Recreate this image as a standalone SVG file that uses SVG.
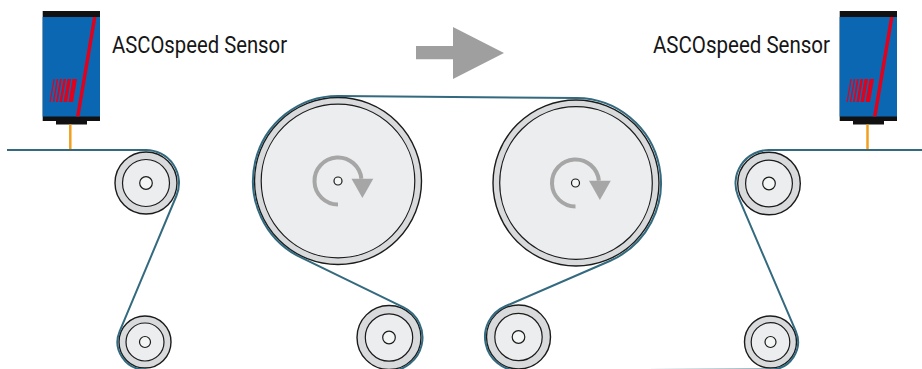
<svg xmlns="http://www.w3.org/2000/svg" xmlns:xlink="http://www.w3.org/1999/xlink" width="922" height="369" viewBox="0 0 922 369">
  <style>
    .rim { fill: #d9dadb; stroke: #1b1b1b; stroke-width: 1.4; }
    .face { fill: #ecedee; stroke: #1b1b1b; stroke-width: 1.2; }
    .hub { fill: #f4f5f5; stroke: #1b1b1b; stroke-width: 1.2; }
    .belt { fill: none; stroke: #336a7f; stroke-width: 2; }
    .probe { stroke: #f0a01e; stroke-width: 2.5; }
    .label { font-family: "Liberation Sans Narrow", Roboto, "Liberation Sans", sans-serif; font-size: 24.5px; fill: #161616; }
    .spin-arc { fill: none; stroke: #a6a6a6; stroke-width: 4; }
    .spin-head { fill: #a6a6a6; }
  </style>
  <defs>
    <!-- sensor housing, drawn at the left position -->
    <g id="sensor-body">
      <rect x="42.7" y="11" width="57.3" height="110" fill="#111111"/>
      <rect x="42.7" y="17" width="57.3" height="99.5" fill="#0b67b2"/>
      <rect x="56" y="120" width="31" height="4.5" fill="#111111"/>
      <polygon points="93,17 96.5,17 79.5,116.5 76,116.5" fill="#e2001a"/>
      <g fill="#e2001a">
        <polygon points="53.5,79 54.7,79 50.7,102 49.5,102"/>
        <polygon points="56.8,79 58.2,79 54.2,102 52.8,102"/>
        <polygon points="60,79 61.8,79 57.8,102 56,102"/>
        <polygon points="63.5,79 66,79 62,102 59.5,102"/>
        <polygon points="67.5,79 71,79 67,102 63.5,102"/>
        <polygon points="72.5,79 77,79 73,102 68.5,102"/>
      </g>
    </g>
    <!-- rotation indicator around a drum hub at the origin -->
    <g id="spin">
      <path class="spin-arc" d="M0,23.5 A23.5,23.5 0 1 1 23.4,-2.2"/>
      <polygon class="spin-head" points="13.5,-2.3 35.3,-2.3 24.4,17"/>
    </g>
  </defs>

  <!-- sensors -->
  <g id="sensor-left">
    <use xlink:href="#sensor-body"/>
    <text class="label" x="112" y="53" textLength="175" lengthAdjust="spacingAndGlyphs">ASCOspeed Sensor</text>
  </g>
  <g id="sensor-right">
    <use xlink:href="#sensor-body" transform="translate(797,0)"/>
    <text class="label" x="653" y="53" textLength="177" lengthAdjust="spacingAndGlyphs">ASCOspeed Sensor</text>
  </g>

  <!-- direction of travel -->
  <g id="direction-arrow">
    <polygon points="416,46 453,46 453,27 504,53 453,79 453,59.3 416,59.3" fill="#9f9f9f"/>
  </g>

  <!-- guide rollers -->
  <g id="roller-top-left">
    <circle class="rim" cx="146" cy="183" r="31"/>
    <circle class="face" cx="146" cy="183" r="23.5"/>
    <circle class="hub" cx="146" cy="183" r="6.3"/>
  </g>
  <g id="roller-bottom-left">
    <circle class="rim" cx="145" cy="342" r="26"/>
    <circle class="face" cx="145" cy="342" r="19"/>
    <circle class="hub" cx="145" cy="342" r="5.5"/>
  </g>
  <g id="roller-bottom-mid-left">
    <circle class="rim" cx="389" cy="337.5" r="32"/>
    <circle class="face" cx="389" cy="337.5" r="23.7"/>
    <circle class="hub" cx="389" cy="337.5" r="6.3"/>
  </g>
  <g id="roller-bottom-mid-right">
    <circle class="rim" cx="518.5" cy="337" r="32"/>
    <circle class="face" cx="518.5" cy="337" r="23.7"/>
    <circle class="hub" cx="518.5" cy="337" r="6.3"/>
  </g>
  <g id="roller-bottom-right">
    <circle class="rim" cx="770.5" cy="342" r="26"/>
    <circle class="face" cx="770.5" cy="342" r="19.3"/>
    <circle class="hub" cx="770.5" cy="342" r="5.5"/>
  </g>
  <g id="roller-top-right">
    <circle class="rim" cx="769" cy="183.5" r="31.3"/>
    <circle class="face" cx="769" cy="183.5" r="23.4"/>
    <circle class="hub" cx="769" cy="183.5" r="6.3"/>
  </g>

  <!-- driven drums -->
  <g id="drum-left">
    <circle class="rim" cx="338" cy="181" r="83.5"/>
    <circle class="face" cx="338" cy="181" r="76.8"/>
    <use xlink:href="#spin" transform="translate(338,181)"/>
    <circle class="hub" cx="338" cy="181" r="4" stroke-width="1"/>
  </g>
  <g id="drum-right">
    <circle class="rim" cx="576" cy="183" r="83"/>
    <circle class="face" cx="576" cy="183" r="76.3"/>
    <use xlink:href="#spin" transform="translate(575.5,183)"/>
    <circle class="hub" cx="575.5" cy="183" r="4" stroke-width="1"/>
  </g>

  <!-- web path and sensor probes -->
  <g id="connectors">
    <line class="probe" x1="70.3" y1="124.5" x2="70.3" y2="150"/>
    <line class="probe" x1="867.5" y1="124.5" x2="867.5" y2="150"/>
    <path class="belt" d="M7,150 L146,150 A33,33 0 0 1 176.44,195.75 L119.64,331.37 A27.5,27.5 0 0 0 145,369.5 L145,372 L389,372 L388.8,371 A33.5,33.5 0 0 0 403.63,307.36 L300.87,257.47 A85,85 0 0 1 338.71,96 L576.71,98 A85,85 0 0 1 609.74,261 L505.2,306.25 A33.5,33.5 0 0 0 518.63,370.5 L770.61,369.5 A27.5,27.5 0 0 0 795.78,331.18 L738.2,196.68 A33.5,33.5 0 0 1 769,150 L922,150"/>
  </g>
</svg>
